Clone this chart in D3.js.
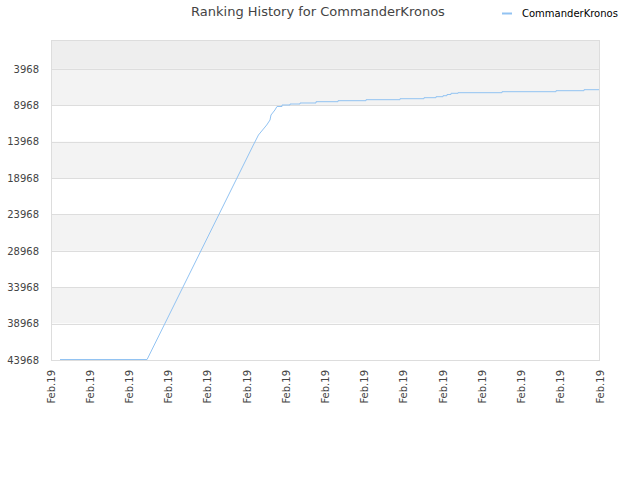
<!DOCTYPE html>
<html><head><meta charset="utf-8">
<script src="https://cdn.jsdelivr.net/npm/d3@7"></script>
<style>body{margin:0;background:#fff}svg{display:block}</style>
</head><body><svg id="c" width="640" height="480"></svg>
<script>
const title = "Ranking History for CommanderKronos";
const seriesName = "CommanderKronos";
// rising part (days along x axis, rank)
const riseDays = [0.23, 2.45, 5.16, 5.29, 5.50, 5.585, 5.61, 5.71, 5.763];
const riseRanks = [43900, 43900, 14427, 13053, 11679, 10992, 10305, 9618, 9137];
// stepped plateau part
const stepDays = [5.763, 5.891, 6.095, 6.350, 6.758, 7.319, 8.033, 8.900, 9.512, 9.818, 9.996, 10.098, 10.200, 10.379, 11.501, 12.878, 13.592, 13.975];
const stepRanks = [9137, 8930, 8794, 8656, 8478, 8340, 8203, 8066, 7928, 7790, 7653, 7488, 7323, 7241, 7103, 6966, 6829, 6829];
const yTicks = [3968, 8968, 13968, 18968, 23968, 28968, 33968, 38968, 43968];
const xTickLabels = ["Feb.19","Feb.19","Feb.19","Feb.19","Feb.19","Feb.19","Feb.19","Feb.19","Feb.19","Feb.19","Feb.19","Feb.19","Feb.19","Feb.19","Feb.19"];

const svg = d3.select("#c");
const L = 51, R = 600, T = 40, B = 360;
const x = d3.scaleLinear().domain([0, xTickLabels.length - 1]).range([L, R]);
const y = d3.scaleLinear().domain([0, 43968]).range([T, B]);

// bands
svg.append("rect").attr("x", L).attr("y", T).attr("width", R - L).attr("height", y(yTicks[0]) - T).attr("fill", "#eeeeee");
for (let i = 0; i < yTicks.length - 1; i++) {
  const fromBottom = yTicks.length - 2 - i;
  svg.append("rect").attr("x", L).attr("y", y(yTicks[i])).attr("width", R - L)
    .attr("height", y(yTicks[i + 1]) - y(yTicks[i]))
    .attr("fill", fromBottom % 2 === 0 ? "#ffffff" : "#f3f3f3");
}
// gridlines
svg.append("g").selectAll("line").data(yTicks).join("line")
  .attr("x1", L).attr("x2", R).attr("y1", d => Math.round(y(d)) + 0.5).attr("y2", d => Math.round(y(d)) + 0.5)
  .attr("stroke", "#dddddd").attr("stroke-width", 1);
// frame
svg.append("rect").attr("x", L + 0.5).attr("y", T + 0.5).attr("width", R - L - 1).attr("height", B - T)
  .attr("fill", "none").attr("stroke", "#dddddd");

// y labels
const yAxis = d3.axisLeft(y).tickValues(yTicks).tickSize(0).tickPadding(12).tickFormat(d3.format("d"));
const gy = svg.append("g").attr("transform", `translate(${L},0)`).call(yAxis);
gy.select(".domain").remove();
gy.selectAll("text").attr("font-family", "DejaVu Sans").attr("font-size", 10).attr("fill", "#444");

// x labels
const gx = svg.append("g");
gx.selectAll("text").data(xTickLabels).join("text")
  .attr("transform", (d, i) => `translate(${x(i)},${B + 10}) rotate(-90)`)
  .attr("text-anchor", "end").attr("dy", "0.35em")
  .attr("font-family", "DejaVu Sans").attr("font-size", 10).attr("fill", "#444")
  .text(d => d);

// line
const lineColor = "#92c3f2";
const rise = riseDays.map((d, i) => [d, riseRanks[i]]);
const steps = stepDays.map((d, i) => [d, stepRanks[i]]);
svg.append("path").datum(rise).attr("fill", "none").attr("stroke", lineColor).attr("stroke-width", 1)
  .attr("d", d3.line().x(d => x(d[0])).y(d => y(d[1])));
svg.append("path").datum(steps).attr("fill", "none").attr("stroke", lineColor).attr("stroke-width", 1)
  .attr("d", d3.line().curve(d3.curveStepAfter).x(d => x(d[0])).y(d => y(d[1])));

// title
svg.append("text").attr("x", 318).attr("y", 16).attr("text-anchor", "middle")
  .attr("font-family", "DejaVu Sans").attr("font-size", 13).attr("fill", "#444").text(title);
// legend
svg.append("line").attr("x1", 502).attr("x2", 512).attr("y1", 13.5).attr("y2", 13.5).attr("stroke", lineColor).attr("stroke-width", 2);
svg.append("text").attr("x", 522).attr("y", 17).attr("font-family", "DejaVu Sans").attr("font-size", 10).attr("fill", "#000").text(seriesName);
</script></body></html>
